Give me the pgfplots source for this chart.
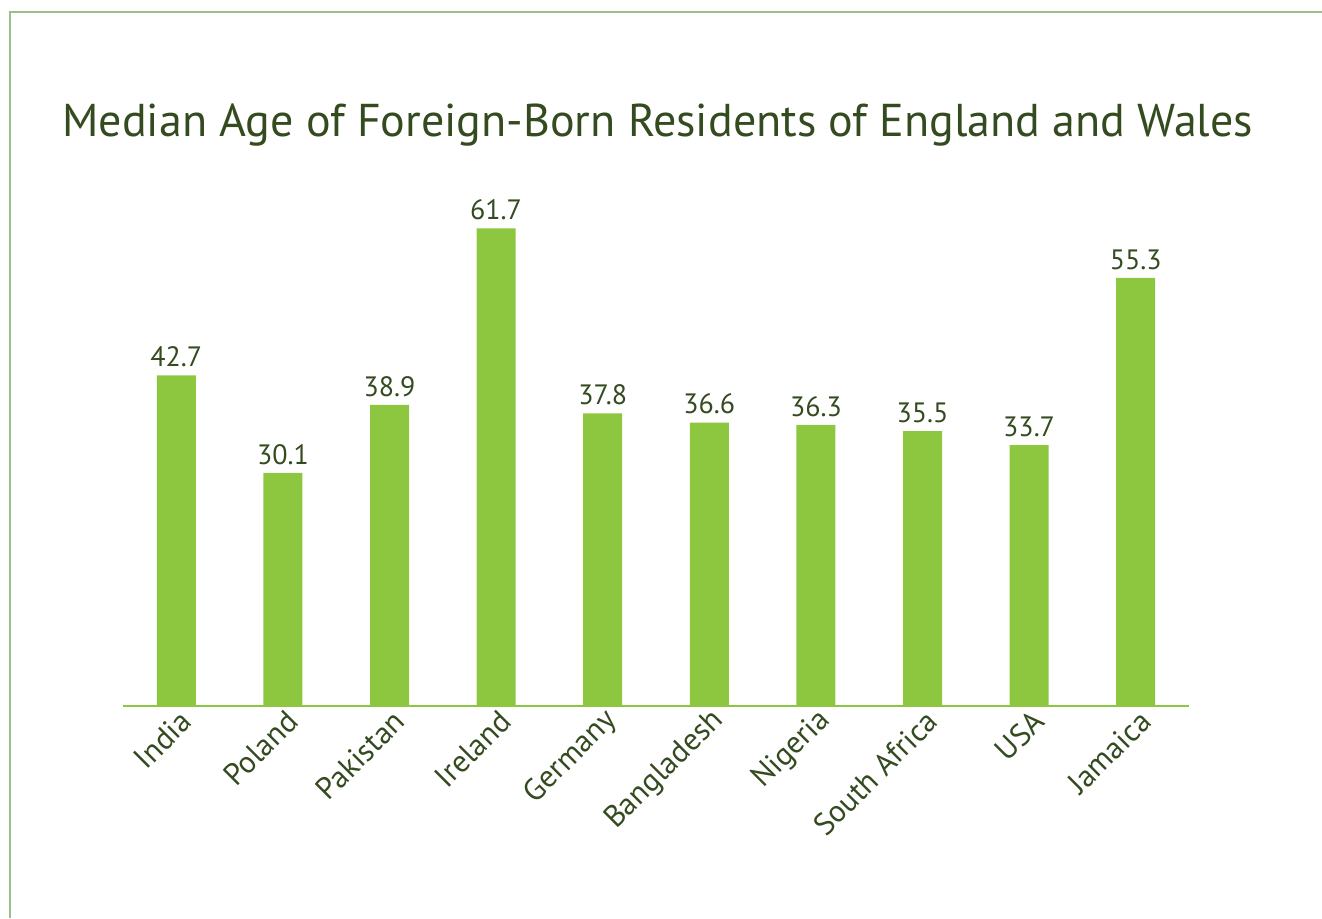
\documentclass[border=0pt]{standalone}
\usepackage{pgfplots}
\pgfplotsset{compat=1.18}
\usepackage{fontspec}
\setmainfont{PT Sans}
\definecolor{bargreen}{HTML}{8DC63F}
\definecolor{darkgreen}{HTML}{344A1F}
\definecolor{framegreen}{HTML}{9DBE88}
\begin{document}
\begin{tikzpicture}
\useasboundingbox (0,0) rectangle (661pt,459pt);
\draw[framegreen, line width=0.6pt] (5pt,0pt) -- (5pt,453pt) -- (661pt,453pt);
\node[anchor=base west, inner sep=0pt, text=darkgreen, font=\fontsize{23}{26}\selectfont] at (31pt,390.5pt) {Median Age of Foreign-Born Residents of England and Wales};
\begin{axis}[
  at={(61.5pt,106pt)}, anchor=south west,
  scale only axis, width=533pt, height=271pt,
  xmin=-0.5, xmax=9.5, ymin=0, ymax=70,
  axis x line*=bottom, axis y line=none,
  x axis line style={bargreen, line width=0.8pt, -},
  xtick=data,
  xticklabels={India,Poland,Pakistan,Ireland,Germany,Bangladesh,Nigeria,South Africa,USA,Jamaica},
  xtick style={draw=none},
  xticklabel style={rotate=45, anchor=east, text=darkgreen, font=\fontsize{15.4}{17}\selectfont, inner sep=1pt, xshift=4pt, yshift=-4pt},
  ybar, bar width=19.5pt,
  nodes near coords,
  nodes near coords style={text=darkgreen, font=\fontsize{14}{16}\selectfont, anchor=south, inner sep=1pt, yshift=3pt, /pgf/number format/.cd, fixed, fixed zerofill, precision=1},
  every node near coord/.append style={/pgf/number format/assume math mode=true},
]
\addplot[fill=bargreen, draw=none] coordinates {
(0,42.7) (1,30.1) (2,38.9) (3,61.7) (4,37.8) (5,36.6) (6,36.3) (7,35.5) (8,33.7) (9,55.3)};
\end{axis}
\end{tikzpicture}
\end{document}
